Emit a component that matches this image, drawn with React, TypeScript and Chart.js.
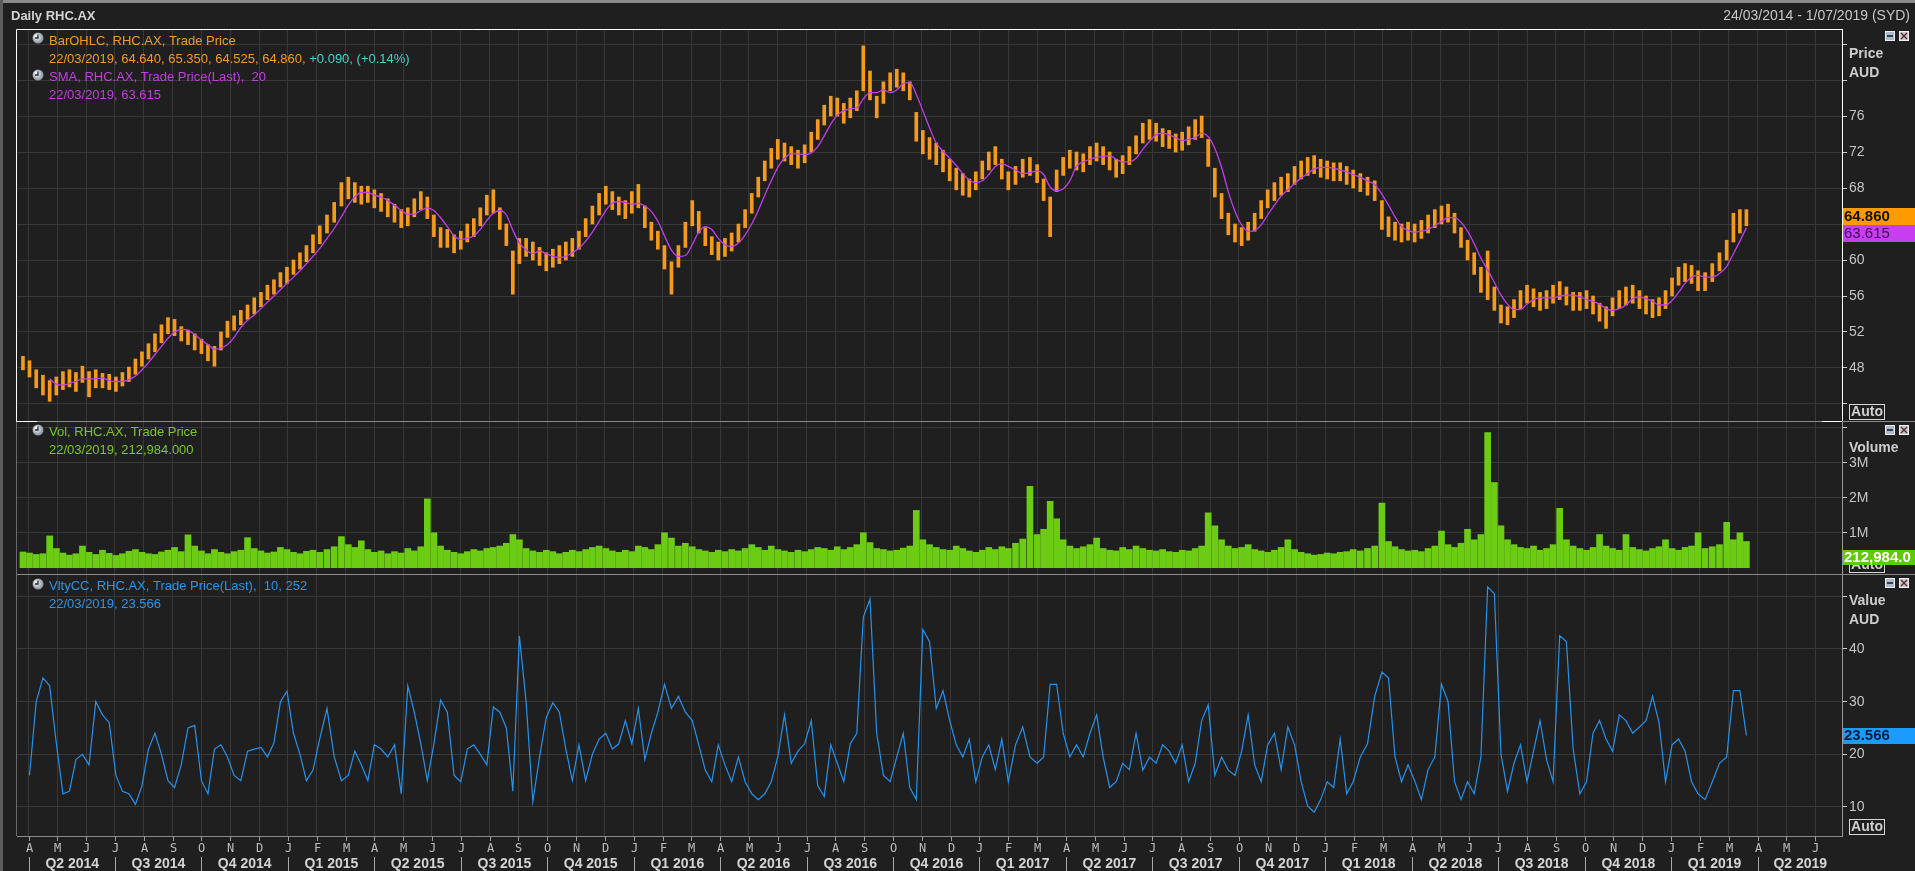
import React, { useEffect, useRef } from "react";
import { Chart, registerables } from "chart.js";

Chart.register(...registerables);

const CANVAS_W = 1915;
const CANVAS_H = 871;

// Weekly bars, first week starts Monday 24/03/2014, last week ends 22/03/2019
const priceLow = [
  47.8, 47.0, 45.8, 45.0, 44.3, 45.0, 45.6, 45.9, 45.4, 46.4,
  44.8, 45.8, 45.8, 45.6, 45.4, 46.0, 46.5, 47.3, 48.2, 49.0,
  49.8, 50.8, 51.8, 51.6, 51.0, 50.6, 50.0, 49.6, 48.8, 48.2,
  50.0, 51.4, 52.2, 52.8, 53.4, 54.0, 54.8, 55.6, 56.2, 57.0,
  57.4, 58.4, 59.0, 59.8, 60.8, 61.8, 63.0, 64.2, 66.0, 66.8,
  66.4, 66.2, 66.4, 65.8, 65.4, 64.8, 64.2, 63.6, 63.8, 64.8,
  65.6, 64.6, 62.6, 61.4, 61.4, 60.8, 61.2, 62.0, 62.6, 63.8,
  65.0, 65.2, 63.4, 61.6, 56.2, 59.6, 60.4, 60.0, 59.4, 58.8,
  59.2, 59.6, 60.0, 60.4, 61.2, 62.6, 64.0, 65.0, 66.2, 65.6,
  65.0, 64.6, 65.2, 65.8, 63.6, 62.2, 61.2, 59.0, 56.2, 59.2,
  61.4, 63.8, 63.0, 61.6, 60.6, 60.0, 60.4, 61.0, 62.0, 63.6,
  65.2, 67.0, 68.8, 70.2, 71.2, 71.0, 70.6, 70.2, 70.8, 72.0,
  73.4, 75.0, 76.0, 76.0, 75.2, 75.8, 76.6, 78.8, 77.8, 75.8,
  77.4, 78.8, 79.2, 78.8, 77.8, 73.2, 71.8, 71.2, 70.6, 69.8,
  68.8, 67.8, 67.2, 67.0, 67.8, 69.0, 70.0, 70.6, 69.0, 67.8,
  68.4, 69.2, 69.4, 68.6, 66.6, 62.6, 67.6, 69.4, 70.2, 70.0,
  69.8, 70.6, 71.0, 70.6, 70.0, 69.2, 69.6, 70.6, 71.8, 73.0,
  73.4, 73.2, 72.6, 72.4, 72.0, 72.2, 72.8, 73.4, 73.6, 70.4,
  67.0, 64.6, 62.8, 62.0, 61.6, 62.2, 63.2, 64.6, 65.8, 66.6,
  67.2, 67.6, 68.4, 69.0, 69.4, 69.6, 69.2, 69.0, 68.8, 68.8,
  68.4, 68.0, 67.6, 67.2, 66.6, 63.4, 62.6, 62.2, 62.0, 62.2,
  62.0, 62.4, 63.0, 63.6, 64.0, 64.2, 63.0, 61.4, 60.0, 58.4,
  56.4, 55.6, 54.4, 53.0, 52.8, 53.6, 54.6, 55.2, 54.8, 54.4,
  54.6, 55.2, 55.6, 55.0, 54.4, 54.4, 54.6, 54.0, 53.2, 52.4,
  53.8, 54.6, 55.0, 55.2, 54.6, 54.0, 53.6, 53.8, 54.6, 56.0,
  57.2, 57.6, 57.4, 56.6, 56.6, 57.6, 58.8, 60.0, 62.0, 63.0, 63.8,
];

const priceHigh = [
  49.3, 48.8, 47.8, 47.2, 46.6, 47.0, 47.6, 47.8, 47.5, 48.2,
  47.6, 47.8, 47.4, 47.3, 47.0, 47.5, 48.1, 49.0, 49.8, 50.7,
  51.8, 52.8, 53.6, 53.4, 52.6, 52.2, 51.8, 51.2, 50.6, 50.4,
  52.0, 53.2, 53.8, 54.4, 55.0, 55.8, 56.4, 57.2, 57.8, 58.6,
  59.2, 60.0, 60.8, 61.6, 62.8, 63.8, 65.0, 66.4, 68.6, 69.2,
  68.6, 68.2, 68.2, 67.8, 67.4, 66.8, 66.2, 65.6, 65.8, 66.8,
  67.6, 67.0, 65.0, 63.6, 63.4, 62.8, 63.2, 64.0, 64.6, 65.8,
  67.2, 67.8, 65.8, 64.0, 61.0, 62.4, 62.4, 62.0, 61.4, 60.8,
  61.2, 61.6, 62.0, 62.4, 63.2, 64.6, 66.0, 67.4, 68.2, 67.6,
  67.0, 66.6, 67.6, 68.4, 66.0, 64.2, 63.2, 61.6, 59.8, 61.6,
  64.2, 66.6, 65.4, 63.6, 62.6, 62.0, 62.4, 63.0, 64.0, 65.6,
  67.4, 69.2, 71.0, 72.4, 73.4, 73.0, 72.6, 72.2, 72.8, 74.2,
  75.6, 77.2, 78.2, 78.0, 77.4, 78.0, 78.8, 83.8, 81.0, 78.2,
  79.8, 80.8, 81.2, 80.8, 79.8, 76.4, 74.4, 73.6, 73.0, 72.2,
  71.2, 70.2, 69.6, 69.0, 69.8, 71.0, 72.0, 72.6, 71.2, 69.8,
  70.4, 71.2, 71.4, 70.6, 69.0, 67.0, 70.0, 71.4, 72.2, 72.0,
  71.8, 72.6, 73.0, 72.6, 72.0, 71.2, 71.6, 72.6, 73.8, 75.2,
  75.6, 75.2, 74.6, 74.4, 74.0, 74.2, 74.8, 75.6, 76.0, 73.4,
  70.2, 67.4, 65.2, 64.0, 63.6, 64.2, 65.2, 66.6, 67.8, 68.6,
  69.2, 69.6, 70.4, 71.0, 71.4, 71.6, 71.2, 71.0, 70.8, 70.8,
  70.4, 70.0, 69.6, 69.2, 68.8, 66.6, 64.8, 64.2, 64.0, 64.2,
  64.0, 64.4, 65.0, 65.6, 66.0, 66.2, 65.2, 63.6, 62.2, 60.8,
  59.2, 61.0, 57.0, 55.0, 54.8, 55.6, 56.6, 57.2, 56.8, 56.4,
  56.6, 57.2, 57.6, 57.0, 56.4, 56.4, 56.6, 56.0, 55.2, 54.8,
  55.8, 56.6, 57.0, 57.2, 56.6, 56.0, 55.6, 55.8, 56.6, 58.0,
  59.2, 59.6, 59.4, 58.8, 58.6, 59.6, 60.8, 62.2, 65.2, 65.6, 65.6,
];

const sma20 = [
  null, null, null, null, 46.8, 46.2, 46.1, 46.3, 46.5, 46.8,
  46.8, 46.8, 46.9, 46.6, 46.5, 46.5, 46.7, 47.1, 47.8, 48.6,
  49.5, 50.4, 51.3, 52.0, 52.3, 52.2, 51.7, 51.1, 50.6, 50.1,
  50.2, 50.6, 51.4, 52.5, 53.3, 53.9, 54.6, 55.3, 56.0, 56.7,
  57.4, 58.1, 58.8, 59.6, 60.4, 61.3, 62.4, 63.5, 64.8, 66.1,
  67.0, 67.5, 67.5, 67.2, 67.0, 66.6, 66.1, 65.5, 65.1, 65.1,
  65.5, 65.8, 65.5, 64.7, 63.7, 62.7, 62.3, 62.4, 62.7, 63.4,
  64.4, 65.2, 65.5, 65.0, 63.3, 61.9, 61.1, 60.7, 61.0, 60.7,
  60.4, 60.3, 60.4, 60.8, 61.3, 62.1, 63.1, 64.3, 65.5, 66.3,
  66.5, 66.4, 66.2, 66.3, 66.0, 65.4, 64.3, 62.7, 61.1, 60.4,
  60.5, 61.7, 63.1, 63.7, 63.4, 62.4, 61.7, 61.5, 61.9, 62.8,
  64.0, 65.5, 67.2, 68.8, 70.3, 71.3, 71.8, 71.8, 71.7, 71.9,
  72.6, 73.8, 75.1, 76.1, 76.6, 76.8, 76.9, 77.9, 78.6, 78.6,
  78.9, 78.6, 78.9, 79.6, 79.7, 78.4, 76.6, 74.7, 73.0, 72.1,
  71.3, 70.5, 69.6, 68.9, 68.6, 68.8, 69.5, 70.4, 70.7, 70.4,
  70.0, 69.6, 69.7, 69.9, 69.5, 68.1, 67.7, 67.9, 68.8, 70.4,
  70.9, 71.2, 71.4, 71.5, 71.6, 71.2, 70.9, 70.9, 71.3, 72.3,
  73.2, 73.9, 74.1, 73.9, 73.6, 73.3, 73.4, 73.6, 74.1, 73.7,
  72.4, 70.3, 67.6, 65.4, 63.9, 63.2, 63.3, 63.9, 65.0, 66.1,
  67.1, 67.8, 68.5, 69.1, 69.6, 70.1, 70.3, 70.3, 70.2, 70.0,
  69.8, 69.5, 69.2, 68.8, 68.4, 67.3, 66.1, 64.8, 63.7, 63.3,
  63.1, 63.2, 63.4, 63.8, 64.3, 64.7, 64.7, 64.2, 63.2, 61.8,
  60.2, 58.9, 57.5, 56.1, 55.1, 54.5, 54.5, 55.1, 55.6, 55.8,
  55.8, 55.8, 56.0, 56.1, 56.1, 55.9, 55.6, 55.4, 55.1, 54.6,
  54.4, 54.6, 55.0, 55.7, 55.9, 55.7, 55.4, 55.0, 55.0, 55.5,
  56.4, 57.4, 58.1, 58.3, 58.1, 58.1, 58.5, 59.3, 60.7, 62.1, 63.6,
];

// Volume, millions of shares (tallest daily bar of each week)
const volumeM = [
  0.45, 0.42, 0.38, 0.40, 0.91, 0.55, 0.42, 0.36, 0.40, 0.62,
  0.44, 0.38, 0.50, 0.41, 0.35, 0.40, 0.47, 0.52, 0.44, 0.40,
  0.38, 0.45, 0.50, 0.58, 0.46, 0.94, 0.62, 0.48, 0.40, 0.52,
  0.44, 0.40, 0.46, 0.50, 0.86, 0.55, 0.48, 0.42, 0.45, 0.58,
  0.52, 0.44, 0.40, 0.47, 0.50, 0.44, 0.52, 0.60, 0.89, 0.66,
  0.58, 0.77, 0.52, 0.44, 0.48, 0.40, 0.46, 0.42, 0.55, 0.48,
  0.60, 1.97, 1.00, 0.62, 0.50, 0.44, 0.40, 0.46, 0.52, 0.48,
  0.55, 0.58, 0.62, 0.70, 0.95, 0.80, 0.55, 0.48, 0.44, 0.50,
  0.46, 0.40, 0.44, 0.50, 0.46, 0.52, 0.58, 0.62, 0.55, 0.48,
  0.44, 0.50, 0.46, 0.62, 0.58, 0.52, 0.66, 1.00, 0.85, 0.62,
  0.70, 0.60, 0.52, 0.48, 0.44, 0.50, 0.46, 0.52, 0.48, 0.55,
  0.66, 0.58, 0.50, 0.62, 0.52, 0.48, 0.44, 0.50, 0.46, 0.52,
  0.58, 0.55, 0.50, 0.60, 0.52, 0.58, 0.66, 1.00, 0.72, 0.55,
  0.52, 0.48, 0.50, 0.56, 0.62, 1.64, 0.80, 0.66, 0.58, 0.52,
  0.50, 0.62, 0.55, 0.48, 0.44, 0.50, 0.58, 0.52, 0.60, 0.55,
  0.70, 0.82, 2.33, 0.95, 1.10, 1.90, 1.40, 0.80, 0.62, 0.55,
  0.60, 0.66, 0.85, 0.55, 0.50, 0.48, 0.58, 0.52, 0.62, 0.55,
  0.50, 0.48, 0.52, 0.46, 0.44, 0.50, 0.48, 0.55, 0.62, 1.57,
  1.20, 0.80, 0.62, 0.55, 0.58, 0.66, 0.52, 0.48, 0.44, 0.50,
  0.58, 0.80, 0.52, 0.44, 0.40, 0.36, 0.38, 0.42, 0.40, 0.44,
  0.46, 0.52, 0.48, 0.55, 0.62, 1.85, 0.75, 0.60, 0.52, 0.48,
  0.50, 0.46, 0.55, 0.62, 1.05, 0.66, 0.58, 0.70, 1.10, 0.80,
  0.95, 3.87, 2.44, 1.20, 0.80, 0.66, 0.58, 0.55, 0.62, 0.50,
  0.55, 0.66, 1.70, 0.80, 0.62, 0.55, 0.50, 0.58, 0.95, 0.62,
  0.55, 0.50, 0.95, 0.58, 0.52, 0.48, 0.55, 0.60, 0.80, 0.55,
  0.50, 0.58, 0.62, 1.00, 0.55, 0.60, 0.66, 1.30, 0.80, 1.00, 0.75,
];

const vltyCC = [
  null, 16, 30, 34.5, 33, 22, 12.5, 13, 19, 20,
  18, 30, 27.5, 26, 16, 13, 12.5, 10.5, 14, 21,
  24, 20, 15, 13.7, 18, 25, 25.5, 15, 12.5, 21,
  21.8, 19.5, 16, 15, 20.6, 21, 21.3, 19.5, 22.2, 30,
  32, 24, 20, 15, 17, 23, 28.7, 19.5, 15, 16,
  20.6, 18, 15, 21.8, 21, 19.5, 21.8, 12.5, 33, 28,
  22, 15, 22, 30.3, 28, 16, 14.8, 21, 21.8, 20,
  18, 29, 28, 25, 13, 42.5, 30, 11, 19.5, 27,
  29.8, 28, 21, 15, 21.8, 15, 20, 22.9, 24, 21,
  22, 26.4, 22, 28.7, 19, 24, 28, 33.3, 28.7, 31,
  28, 26.4, 21.8, 17, 14.8, 21.8, 18, 14.8, 19.5, 14.8,
  12.5, 11.4, 12.5, 14.8, 19.5, 27.5, 18.3, 20.6, 22, 26.4,
  14, 12, 21.8, 18.3, 14.8, 22, 24, 46, 49.5, 24,
  16, 14.8, 19.5, 24, 13.7, 11.4, 43.7, 41.4, 28.7, 32.1,
  26.4, 21.8, 19.5, 22.9, 14.8, 19.5, 21.8, 17.1, 22.9, 14.8,
  21.8, 25.2, 19.5, 18.3, 19.5, 33.3, 33.3, 24, 19.5, 21.8,
  19.5, 24, 27.5, 19.5, 13.7, 14.8, 18.3, 17.1, 24, 17,
  19.5, 18.3, 21.8, 20.6, 18.3, 21.8, 14.8, 18.3, 26.4, 29.4,
  16, 19.5, 17, 16, 20.6, 27.5, 18, 14.8, 21.8, 24,
  17.1, 25.2, 21.8, 14.8, 10.2, 9, 11.4, 14.8, 13.7, 22.9,
  12.5, 14.8, 19.5, 22, 31, 35.6, 34.5, 19.5, 14.8, 18,
  15, 11.4, 17.1, 19.5, 33.3, 30, 14.8, 11.4, 14.8, 12.5,
  19.5, 51.8, 50.5, 20, 13, 18.3, 21.8, 14.8, 20.6, 26.4,
  19, 14.8, 42.5, 41.4, 21, 12.5, 14.8, 24, 26.4, 22.9,
  20.6, 27.5, 26.4, 24, 25.2, 26.4, 31, 26, 14.8, 21.8,
  22.9, 20.6, 14.8, 12.5, 11.4, 14.8, 18.3, 19.5, 32.1, 32.1, 23.6,
];

const lastBar = { date: "22/03/2019", open: "64.640", high: "65.350", low: "64.525", close: "64.860", change: "+0.090", pct: "(+0.14%)" };
const lastClose = 64.86;
const lastSma = 63.615;
const lastVolume = 212984;
const lastVlty = 23.566;

const monthLetters = ["J", "F", "M", "A", "M", "J", "J", "A", "S", "O", "N", "D"];
const priceTicks = [44, 48, 52, 56, 60, 64, 68, 72, 76, 80, 84];
const priceLabelled = [48, 52, 56, 60, 64, 68, 72, 76];
const volumeTicks = [1, 2, 3, 4];
const volumeLabelled = [1, 2, 3];
const vltyTicks = [10, 15, 20, 25, 30, 35, 40, 45, 50];
const vltyLabelled = [10, 15, 20, 25, 30, 35, 40];

// x axis: months since 1 April 2014
const X_MIN = -0.4;
const X_MAX = 62.93;
const MONTHS_SHOWN = 63;

const FONT = '"Liberation Sans", Arial, sans-serif';
const MONO = '"DejaVu Sans Mono", monospace';
const BG = "#1f1f1f";
const GRID = "#383838";

function monthPos(d: Date): number {
  const dim = new Date(d.getFullYear(), d.getMonth() + 1, 0).getDate();
  return (d.getFullYear() - 2014) * 12 + d.getMonth() - 3 + (d.getDate() - 1) / dim;
}

const weekX = priceLow.map((_, i) => monthPos(new Date(2014, 2, 24 + 7 * i + 2)));

function txt(ctx: CanvasRenderingContext2D, s: string, x: number, y: number, color: string, font: string, align: CanvasTextAlign = "left") {
  ctx.font = font;
  ctx.fillStyle = color;
  ctx.textAlign = align;
  ctx.textBaseline = "middle";
  ctx.fillText(s, x, y);
  return ctx.measureText(s).width;
}

function clock(ctx: CanvasRenderingContext2D, cx: number, cy: number) {
  const g = ctx.createRadialGradient(cx - 2, cy - 2, 0.5, cx, cy, 6);
  g.addColorStop(0, "#ffffff");
  g.addColorStop(1, "#7d8796");
  ctx.beginPath();
  ctx.arc(cx, cy, 5.5, 0, Math.PI * 2);
  ctx.fillStyle = g;
  ctx.fill();
  ctx.strokeStyle = "#2a2a2a";
  ctx.lineWidth = 1.3;
  ctx.beginPath();
  ctx.moveTo(cx, cy - 3.5);
  ctx.lineTo(cx, cy);
  ctx.lineTo(cx - 3, cy);
  ctx.stroke();
}

function icons(ctx: CanvasRenderingContext2D, top: number) {
  const x = 1885;
  ctx.fillStyle = "#aeb8c6";
  ctx.fillRect(x, top, 10, 10);
  ctx.strokeStyle = "#e6ecf3";
  ctx.lineWidth = 1;
  ctx.strokeRect(x + 0.5, top + 0.5, 9, 9);
  ctx.fillStyle = "#34404f";
  ctx.fillRect(x + 2, top + 4, 6, 2);
  ctx.fillStyle = "#c9c6cc";
  ctx.fillRect(x + 14, top, 10, 10);
  ctx.strokeStyle = "#f0f0f0";
  ctx.strokeRect(x + 14.5, top + 0.5, 9, 9);
  ctx.strokeStyle = "#5a2a2a";
  ctx.lineWidth = 1.4;
  ctx.beginPath();
  ctx.moveTo(x + 16, top + 2);
  ctx.lineTo(x + 22, top + 8);
  ctx.moveTo(x + 22, top + 2);
  ctx.lineTo(x + 16, top + 8);
  ctx.stroke();
}

function autoBox(ctx: CanvasRenderingContext2D, bottom: number) {
  ctx.fillStyle = BG;
  ctx.fillRect(1849, bottom - 17, 36, 16);
  ctx.strokeStyle = "#d8d8d8";
  ctx.lineWidth = 1;
  ctx.strokeRect(1849.5, bottom - 16.5, 35, 15);
  txt(ctx, "Auto", 1867, bottom - 8.5, "#cfcfcf", `bold 14px ${FONT}`, "center");
}

function valueBox(ctx: CanvasRenderingContext2D, yc: number, h: number, bg: string, s: string, color: string, bold: boolean) {
  ctx.fillStyle = bg;
  ctx.fillRect(1843, Math.round(yc - h / 2), 72, h);
  txt(ctx, s, 1844, yc + 0.5, color, `${bold ? "bold " : ""}15px ${FONT}`);
}

const decorPlugin = {
  id: "decor",
  beforeDraw(chart: any) {
    const ctx = chart.ctx as CanvasRenderingContext2D;
    ctx.save();
    ctx.fillStyle = BG;
    ctx.fillRect(0, 0, CANVAS_W, CANVAS_H);
    ctx.restore();
  },
  afterDraw(chart: any) {
    const ctx = chart.ctx as CanvasRenderingContext2D;
    const { yP, yV, yL, x } = chart.scales;
    const L = chart.chartArea.left;
    const R = chart.chartArea.right;
    ctx.save();

    // outer frame + title bar
    ctx.fillStyle = "#8a8a8a";
    ctx.fillRect(0, 0, CANVAS_W, 3);
    ctx.fillStyle = "#5c5c5c";
    ctx.fillRect(0, 0, 3, CANVAS_H);
    txt(ctx, "Daily RHC.AX", 11, 16, "#d4d4d4", `bold 13px ${FONT}`);
    txt(ctx, "24/03/2014 - 1/07/2019 (SYD)", 1910, 16, "#c8c8c8", `14px ${FONT}`, "right");

    // panel separators
    ctx.strokeStyle = "#8a8a8a";
    ctx.lineWidth = 1;
    for (const yy of [Math.round(yP.bottom) + 0.5, Math.round(yV.bottom) + 0.5]) {
      ctx.beginPath();
      ctx.moveTo(L, yy);
      ctx.lineTo(CANVAS_W, yy);
      ctx.stroke();
    }
    // left borders
    ctx.strokeStyle = "#6a6a6a";
    ctx.beginPath();
    ctx.moveTo(L - 0.5, yV.top);
    ctx.lineTo(L - 0.5, yL.bottom);
    ctx.stroke();
    // price panel white bracket
    ctx.strokeStyle = "#ffffff";
    ctx.beginPath();
    ctx.moveTo(L - 0.5, Math.round(yP.bottom) + 0.5);
    ctx.lineTo(L - 0.5, Math.round(yP.top) + 0.5);
    ctx.lineTo(R, Math.round(yP.top) + 0.5);
    ctx.moveTo(L - 0.5, Math.round(yP.bottom) + 0.5);
    ctx.lineTo(L + 20, Math.round(yP.bottom) + 0.5);
    ctx.moveTo(R - 20, Math.round(yP.bottom) + 0.5);
    ctx.lineTo(R, Math.round(yP.bottom) + 0.5);
    ctx.stroke();

    // legends
    const LX = 49;
    const LF = `13px ${FONT}`;
    const pTop = yP.top;
    clock(ctx, 38, pTop + 9);
    txt(ctx, "BarOHLC, RHC.AX, Trade Price", LX, pTop + 12, "#f29a22", LF);
    const w = txt(ctx, `${lastBar.date}, ${lastBar.open}, ${lastBar.high}, ${lastBar.low}, ${lastBar.close}, `, LX, pTop + 30, "#f29a22", LF);
    txt(ctx, `${lastBar.change}, ${lastBar.pct}`, LX + w, pTop + 30, "#3ed6c8", LF);
    clock(ctx, 38, pTop + 46);
    txt(ctx, "SMA, RHC.AX, Trade Price(Last),  20", LX, pTop + 48, "#c23ee0", LF);
    txt(ctx, `${lastBar.date}, ${lastSma.toFixed(3)}`, LX, pTop + 66, "#c23ee0", LF);

    const vTop = yV.top;
    clock(ctx, 38, vTop + 9);
    txt(ctx, "Vol, RHC.AX, Trade Price", LX, vTop + 11, "#7cc62a", LF);
    txt(ctx, `${lastBar.date}, ${lastVolume.toLocaleString("en-US")}.000`, LX, vTop + 29, "#7cc62a", LF);

    const lTop = yL.top;
    clock(ctx, 38, lTop + 10);
    txt(ctx, "VltyCC, RHC.AX, Trade Price(Last),  10, 252", LX, lTop + 12, "#2a96e8", LF);
    txt(ctx, `${lastBar.date}, ${lastVlty.toFixed(3)}`, LX, lTop + 30, "#2a96e8", LF);

    // right side headers
    const HX = 1849;
    txt(ctx, "Price", HX, pTop + 25, "#cdcdcd", `bold 14px ${FONT}`);
    txt(ctx, "AUD", HX, pTop + 44, "#cdcdcd", `bold 14px ${FONT}`);
    txt(ctx, "Volume", HX, vTop + 27, "#cdcdcd", `bold 14px ${FONT}`);
    txt(ctx, "Value", HX, lTop + 27, "#cdcdcd", `bold 14px ${FONT}`);
    txt(ctx, "AUD", HX, lTop + 46, "#cdcdcd", `bold 14px ${FONT}`);
    icons(ctx, pTop + 2);
    icons(ctx, vTop + 4);
    icons(ctx, lTop + 4);

    autoBox(ctx, yP.bottom);
    autoBox(ctx, yV.bottom);
    autoBox(ctx, yL.bottom);

    // last value boxes
    const oy = yP.getPixelForValue(lastClose);
    valueBox(ctx, oy, 17, "#ff9a00", lastClose.toFixed(3), "#111111", true);
    const my = Math.max(yP.getPixelForValue(lastSma), oy + 17);
    valueBox(ctx, my, 17, "#c83cf2", lastSma.toFixed(3), "#3a0b55", false);
    const gy = Math.min(yV.getPixelForValue(lastVolume / 1e6), yV.bottom - 17);
    valueBox(ctx, gy, 15, "#62c800", `${lastVolume.toLocaleString("en-US")}.0`, "#ffffff", true);
    valueBox(ctx, yL.getPixelForValue(lastVlty), 16, "#1a9cff", lastVlty.toFixed(3), "#0a1e3c", true);

    // bottom time axis
    const axTop = Math.round(x.top);
    ctx.strokeStyle = "#a0a0a0";
    ctx.lineWidth = 1;
    for (let m = 0; m < MONTHS_SHOWN; m++) {
      const px = Math.round(x.getPixelForValue(m)) + 0.5;
      ctx.beginPath();
      ctx.moveTo(px, axTop + 1);
      ctx.lineTo(px, axTop + 5);
      ctx.stroke();
      txt(ctx, monthLetters[(m + 3) % 12], px, axTop + 13, "#bdbdbd", `12px ${MONO}`, "center");
    }
    for (let m0 = 0; m0 < MONTHS_SHOWN; m0 += 3) {
      const p0 = Math.round(x.getPixelForValue(m0)) + 0.5;
      const p1 = x.getPixelForValue(Math.min(m0 + 3, X_MAX));
      ctx.strokeStyle = "#a8a8a8";
      ctx.beginPath();
      ctx.moveTo(p0, axTop + 21);
      ctx.lineTo(p0, axTop + 35);
      ctx.stroke();
      const q = Math.floor(((m0 + 3) % 12) / 3) + 1;
      const yr = 2014 + Math.floor((m0 + 3) / 12);
      txt(ctx, `Q${q} ${yr}`, (p0 + p1) / 2, axTop + 28, "#d4d4d4", `bold 14px ${FONT}`, "center");
    }
    ctx.restore();
  },
};

function yAxis(weight: number, min: number, max: number, tickVals: number[], labelled: number[], fmt: (v: number) => string, borderColor: string) {
  return {
    type: "linear",
    position: "right",
    stack: "panels",
    stackWeight: weight,
    min,
    max,
    beginAtZero: false,
    afterBuildTicks: (s: any) => {
      s.ticks = tickVals.map((v) => ({ value: v }));
    },
    afterFit: (s: any) => {
      s.width = 73;
    },
    grid: { color: GRID, tickColor: "#cfcfcf", tickLength: 5, lineWidth: 1 },
    border: { color: borderColor, width: 1 },
    ticks: {
      color: "#c4c4c4",
      font: { family: FONT, size: 14 },
      padding: 2,
      callback: (v: number) => (labelled.includes(v) ? fmt(v) : ""),
    },
  };
}

export default function App() {
  const ref = useRef<HTMLCanvasElement | null>(null);
  useEffect(() => {
    if (!ref.current) return;
    const chart = new Chart(ref.current, {
      type: "bar",
      data: {
        datasets: [
          {
            type: "line",
            label: "SMA",
            data: weekX.map((xv, i) => ({ x: xv, y: sma20[i] })),
            yAxisID: "yP",
            xAxisID: "x",
            borderColor: "#c23ee8",
            borderWidth: 1.3,
            pointRadius: 0,
            cubicInterpolationMode: "monotone",
            order: 0,
          },
          {
            type: "bar",
            label: "BarOHLC",
            data: weekX.map((xv, i) => ({ x: xv, y: [priceLow[i], priceHigh[i]] })),
            yAxisID: "yP",
            xAxisID: "x",
            backgroundColor: "#f59a1c",
            barThickness: 3,
            grouped: false,
            order: 1,
          },
          {
            type: "bar",
            label: "Vol",
            data: weekX.map((xv, i) => ({ x: xv, y: volumeM[i] })),
            yAxisID: "yV",
            xAxisID: "x",
            backgroundColor: "#6ccc14",
            barThickness: 6,
            grouped: false,
            order: 2,
          },
          {
            type: "line",
            label: "VltyCC",
            data: weekX.map((xv, i) => ({ x: xv, y: vltyCC[i] })),
            yAxisID: "yL",
            xAxisID: "x",
            borderColor: "#2592ec",
            borderWidth: 1.2,
            pointRadius: 0,
            tension: 0,
            order: 3,
          },
        ],
      } as any,
      options: {
        responsive: false,
        animation: false,
        devicePixelRatio: 1,
        events: [],
        layout: { padding: { left: 17, top: 29, right: 0, bottom: 0 } },
        plugins: { legend: { display: false }, tooltip: { enabled: false } },
        scales: {
          x: {
            type: "linear",
            position: "bottom",
            min: X_MIN,
            max: X_MAX,
            offset: false,
            afterBuildTicks: (s: any) => {
              const t = [];
              for (let m = 0; m < MONTHS_SHOWN; m++) t.push({ value: m });
              s.ticks = t;
            },
            afterFit: (s: any) => {
              s.height = 35;
            },
            grid: { color: GRID, drawTicks: false, offset: false },
            border: { color: "#8a8a8a" },
            ticks: { display: false },
          },
          yP: yAxis(392, 42.11, 85.67, priceTicks, priceLabelled, (v) => String(v), "#ffffff"),
          yV: yAxis(153, -0.18, 4.2, volumeTicks, volumeLabelled, (v) => `${v}M`, "#9a9a9a"),
          yL: yAxis(262, 4.49, 54.24, vltyTicks, vltyLabelled, (v) => String(v), "#9a9a9a"),
        } as any,
      },
      plugins: [decorPlugin],
    });
    return () => chart.destroy();
  }, []);
  return (
    <div style={{ position: "fixed", left: 0, top: 0, width: CANVAS_W, height: CANVAS_H, background: BG }}>
      <canvas ref={ref} width={CANVAS_W} height={CANVAS_H} style={{ display: "block", width: CANVAS_W, height: CANVAS_H }} />
    </div>
  );
}
